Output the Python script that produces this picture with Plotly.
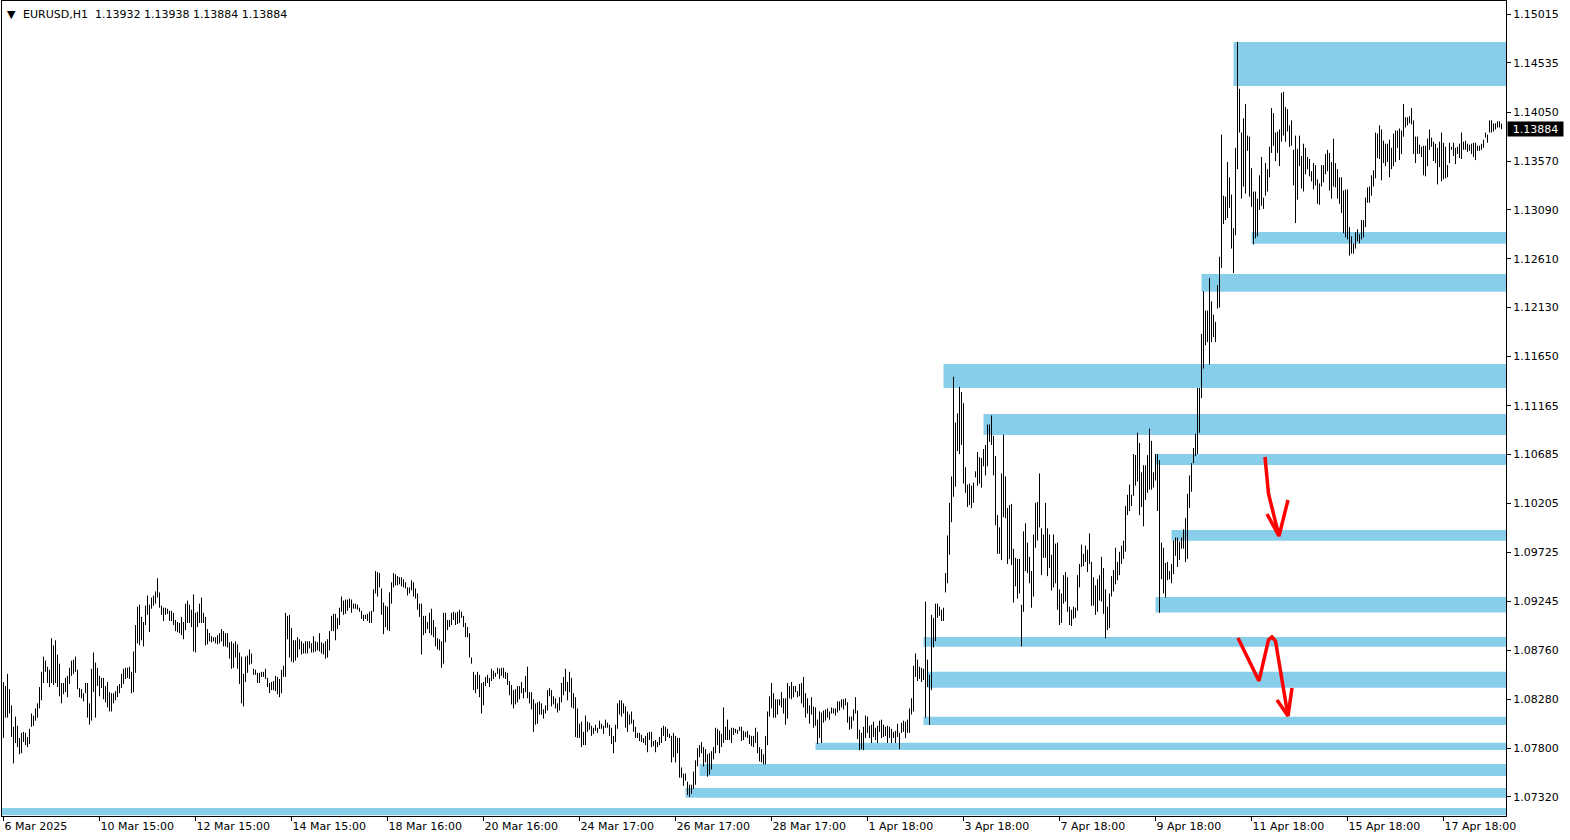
import plotly.graph_objects as go

# ---------------- data ----------------
chart_title = "EURUSD,H1  1.13932 1.13938 1.13884 1.13884"
last_price = 1.13884

bar_high = [
 1.0845, 1.0841, 1.0853, 1.0838, 1.0822, 1.0801, 1.0811, 1.0802, 1.0790, 1.0795,
 1.0796, 1.0795, 1.0791, 1.0799, 1.0814, 1.0812, 1.0819, 1.0824, 1.0840, 1.0855,
 1.0870, 1.0866, 1.0860, 1.0857, 1.0888, 1.0881, 1.0886, 1.0872, 1.0863, 1.0844,
 1.0844, 1.0849, 1.0851, 1.0859, 1.0866, 1.0867, 1.0870, 1.0857, 1.0839, 1.0838,
 1.0834, 1.0844, 1.0844, 1.0824, 1.0858, 1.0874, 1.0864, 1.0859, 1.0851, 1.0849,
 1.0849, 1.0841, 1.0845, 1.0835, 1.0834, 1.0834, 1.0836, 1.0841, 1.0843, 1.0853,
 1.0858, 1.0859, 1.0859, 1.0860, 1.0855, 1.0875, 1.0901, 1.0919, 1.0921, 1.0909,
 1.0904, 1.0920, 1.0930, 1.0921, 1.0928, 1.0930, 1.0934, 1.0947, 1.0933, 1.0920,
 1.0918, 1.0918, 1.0917, 1.0915, 1.0915, 1.0913, 1.0906, 1.0904, 1.0903, 1.0909,
 1.0904, 1.0922, 1.0925, 1.0921, 1.0916, 1.0931, 1.0913, 1.0914, 1.0922, 1.0928,
 1.0913, 1.0909, 1.0897, 1.0893, 1.0890, 1.0889, 1.0889, 1.0891, 1.0893, 1.0897,
 1.0895, 1.0893, 1.0893, 1.0884, 1.0885, 1.0883, 1.0885, 1.0882, 1.0874, 1.0870,
 1.0853, 1.0870, 1.0871, 1.0877, 1.0873, 1.0858, 1.0857, 1.0854, 1.0854, 1.0855,
 1.0855, 1.0858, 1.0849, 1.0844, 1.0845, 1.0846, 1.0851, 1.0850, 1.0848, 1.0857,
 1.0861, 1.0913, 1.0910, 1.0911, 1.0898, 1.0886, 1.0886, 1.0889, 1.0887, 1.0885,
 1.0883, 1.0885, 1.0885, 1.0885, 1.0883, 1.0890, 1.0885, 1.0884, 1.0893, 1.0884,
 1.0883, 1.0885, 1.0887, 1.0895, 1.0910, 1.0912, 1.0912, 1.0908, 1.0918, 1.0929,
 1.0925, 1.0926, 1.0926, 1.0927, 1.0926, 1.0922, 1.0922, 1.0921, 1.0918, 1.0915,
 1.0911, 1.0911, 1.0912, 1.0914, 1.0915, 1.0936, 1.0954, 1.0953, 1.0952, 1.0937,
 1.0923, 1.0920, 1.0919, 1.0933, 1.0943, 1.0952, 1.0951, 1.0949, 1.0948, 1.0948,
 1.0946, 1.0943, 1.0938, 1.0938, 1.0945, 1.0943, 1.0937, 1.0932, 1.0922, 1.0922,
 1.0910, 1.0910, 1.0904, 1.0913, 1.0917, 1.0906, 1.0899, 1.0888, 1.0887, 1.0885,
 1.0913, 1.0913, 1.0906, 1.0906, 1.0913, 1.0914, 1.0913, 1.0914, 1.0916, 1.0914,
 1.0910, 1.0903, 1.0899, 1.0893, 1.0869, 1.0855, 1.0852, 1.0855, 1.0852, 1.0844,
 1.0845, 1.0850, 1.0852, 1.0849, 1.0858, 1.0856, 1.0854, 1.0859, 1.0858, 1.0859,
 1.0859, 1.0855, 1.0854, 1.0846, 1.0842, 1.0837, 1.0838, 1.0841, 1.0841, 1.0845,
 1.0839, 1.0851, 1.0860, 1.0835, 1.0835, 1.0828, 1.0824, 1.0825, 1.0826, 1.0824,
 1.0818, 1.0822, 1.0837, 1.0839, 1.0837, 1.0831, 1.0829, 1.0824, 1.0830, 1.0844,
 1.0850, 1.0858, 1.0845, 1.0855, 1.0849, 1.0834, 1.0830, 1.0819, 1.0804, 1.0806,
 1.0796, 1.0812, 1.0806, 1.0805, 1.0802, 1.0800, 1.0803, 1.0800, 1.0807, 1.0804,
 1.0802, 1.0808, 1.0805, 1.0803, 1.0800, 1.0792, 1.0803, 1.0824, 1.0827, 1.0827,
 1.0824, 1.0821, 1.0816, 1.0813, 1.0816, 1.0808, 1.0801, 1.0795, 1.0795, 1.0793,
 1.0790, 1.0792, 1.0795, 1.0796, 1.0796, 1.0787, 1.0788, 1.0786, 1.0791, 1.0800,
 1.0802, 1.0801, 1.0799, 1.0794, 1.0792, 1.0795, 1.0792, 1.0790, 1.0790, 1.0761,
 1.0755, 1.0755, 1.0747, 1.0744, 1.0744, 1.0757, 1.0768, 1.0780, 1.0783, 1.0786,
 1.0781, 1.0779, 1.0774, 1.0775, 1.0777, 1.0781, 1.0800, 1.0799, 1.0797, 1.0794,
 1.0820, 1.0801, 1.0808, 1.0798, 1.0800, 1.0800, 1.0799, 1.0798, 1.0801, 1.0801,
 1.0797, 1.0796, 1.0797, 1.0793, 1.0792, 1.0792, 1.0800, 1.0796, 1.0781, 1.0779,
 1.0774, 1.0792, 1.0816, 1.0831, 1.0844, 1.0834, 1.0828, 1.0828, 1.0828, 1.0835,
 1.0829, 1.0829, 1.0844, 1.0841, 1.0845, 1.0841, 1.0841, 1.0836, 1.0843, 1.0844,
 1.0850, 1.0834, 1.0829, 1.0822, 1.0830, 1.0821, 1.0820, 1.0808, 1.0816, 1.0815,
 1.0817, 1.0818, 1.0819, 1.0816, 1.0820, 1.0819, 1.0819, 1.0826, 1.0826, 1.0828,
 1.0828, 1.0829, 1.0825, 1.0811, 1.0811, 1.0818, 1.0830, 1.0817, 1.0798, 1.0795,
 1.0801, 1.0812, 1.0811, 1.0802, 1.0803, 1.0806, 1.0800, 1.0802, 1.0807, 1.0808,
 1.0803, 1.0801, 1.0802, 1.0801, 1.0799, 1.0796, 1.0797, 1.0804, 1.0795, 1.0805,
 1.0807, 1.0806, 1.0808, 1.0819, 1.0829, 1.0861, 1.0873, 1.0867, 1.0860, 1.0859,
 1.0858, 1.0924, 1.0867, 1.0852, 1.0911, 1.0908, 1.0922, 1.0922, 1.0919, 1.0916,
 1.0918, 1.0952, 1.0989, 1.1021, 1.1047, 1.1145, 1.1100, 1.1109, 1.1135, 1.1130,
 1.1119, 1.1056, 1.1039, 1.1040, 1.1038, 1.1041, 1.1052, 1.1071, 1.1066, 1.1065,
 1.1074, 1.1078, 1.1098, 1.1098, 1.1107, 1.1087, 1.1067, 1.1009, 1.0997, 1.1050,
 1.1088, 1.1047, 1.1016, 1.1019, 1.1020, 1.0976, 1.0967, 1.0966, 1.0966, 1.0921,
 1.0993, 1.1001, 1.0982, 1.0968, 1.0954, 1.0990, 1.1021, 1.1022, 1.1050, 1.0996,
 1.0990, 1.1021, 1.0996, 1.0990, 1.0970, 1.0990, 1.0981, 1.0982, 1.0936, 1.0932,
 1.0950, 1.0953, 1.0948, 1.0919, 1.0916, 1.0919, 1.0918, 1.0950, 1.0961, 1.0980,
 1.0971, 1.0979, 1.0975, 1.0991, 1.0963, 1.0948, 1.0940, 1.0946, 1.0950, 1.0968,
 1.0957, 1.0936, 1.0919, 1.0932, 1.0949, 1.0955, 1.0977, 1.0963, 1.0973, 1.0979,
 1.0984, 1.1018, 1.1029, 1.1039, 1.1029, 1.1069, 1.1068, 1.1090, 1.1080, 1.1051,
 1.1058, 1.1058, 1.1068, 1.1094, 1.1082, 1.1051, 1.1069, 1.1069, 1.1063, 1.0982,
 1.0977, 1.0962, 1.0963, 1.0954, 1.0961, 1.0984, 1.0987, 1.0987, 1.0983, 1.0987,
 1.0995, 1.1006, 1.1030, 1.1048, 1.1060, 1.1075, 1.1089, 1.1134, 1.1134, 1.1187,
 1.1229, 1.1210, 1.1210, 1.1242, 1.1219, 1.1206, 1.1199, 1.1235, 1.1263, 1.1383,
 1.1323, 1.1322, 1.1356, 1.1341, 1.1324, 1.1291, 1.1370, 1.1474, 1.1428, 1.1385,
 1.1399, 1.1413, 1.1382, 1.1381, 1.1350, 1.1327, 1.1327, 1.1320, 1.1343, 1.1361,
 1.1321, 1.1355, 1.1349, 1.1371, 1.1409, 1.1404, 1.1385, 1.1386, 1.1388, 1.1424,
 1.1425, 1.1410, 1.1408, 1.1392, 1.1397, 1.1368, 1.1382, 1.1369, 1.1382, 1.1362,
 1.1374, 1.1370, 1.1361, 1.1359, 1.1347, 1.1355, 1.1353, 1.1339, 1.1335, 1.1353,
 1.1353, 1.1364, 1.1368, 1.1365, 1.1356, 1.1379, 1.1355, 1.1349, 1.1341, 1.1341,
 1.1328, 1.1329, 1.1329, 1.1292, 1.1283, 1.1276, 1.1287, 1.1290, 1.1285, 1.1299,
 1.1299, 1.1321, 1.1331, 1.1332, 1.1343, 1.1348, 1.1385, 1.1384, 1.1392, 1.1388,
 1.1377, 1.1374, 1.1374, 1.1378, 1.1370, 1.1384, 1.1387, 1.1387, 1.1389, 1.1387,
 1.1413, 1.1400, 1.1400, 1.1401, 1.1409, 1.1397, 1.1381, 1.1381, 1.1373, 1.1371,
 1.1372, 1.1372, 1.1379, 1.1388, 1.1380, 1.1376, 1.1374, 1.1370, 1.1376, 1.1385,
 1.1375, 1.1371, 1.1353, 1.1375, 1.1371, 1.1375, 1.1370, 1.1371, 1.1374, 1.1385,
 1.1376, 1.1377, 1.1374, 1.1373, 1.1374, 1.1375, 1.1375, 1.1372, 1.1372, 1.1374,
 1.1378, 1.1385, 1.1383, 1.1397, 1.1397, 1.1394, 1.1394, 1.1396, 1.1396, 1.13938,
]

bar_low = [
 1.0790, 1.0810, 1.0810, 1.0814, 1.0791, 1.0765, 1.0785, 1.0781, 1.0774, 1.0775,
 1.0786, 1.0783, 1.0781, 1.0784, 1.0801, 1.0802, 1.0807, 1.0810, 1.0819, 1.0827,
 1.0844, 1.0855, 1.0844, 1.0840, 1.0844, 1.0842, 1.0844, 1.0840, 1.0831, 1.0824,
 1.0833, 1.0835, 1.0830, 1.0843, 1.0851, 1.0853, 1.0855, 1.0838, 1.0830, 1.0829,
 1.0826, 1.0834, 1.0810, 1.0803, 1.0807, 1.0835, 1.0810, 1.0841, 1.0831, 1.0839,
 1.0828, 1.0825, 1.0820, 1.0816, 1.0816, 1.0824, 1.0827, 1.0830, 1.0834, 1.0839,
 1.0843, 1.0848, 1.0849, 1.0848, 1.0834, 1.0835, 1.0854, 1.0883, 1.0881, 1.0886,
 1.0880, 1.0901, 1.0911, 1.0894, 1.0917, 1.0920, 1.0922, 1.0928, 1.0918, 1.0911,
 1.0905, 1.0911, 1.0912, 1.0905, 1.0905, 1.0901, 1.0895, 1.0894, 1.0893, 1.0891,
 1.0887, 1.0896, 1.0903, 1.0903, 1.0899, 1.0875, 1.0874, 1.0899, 1.0903, 1.0903,
 1.0903, 1.0881, 1.0882, 1.0885, 1.0884, 1.0885, 1.0883, 1.0882, 1.0883, 1.0885,
 1.0880, 1.0880, 1.0879, 1.0868, 1.0858, 1.0859, 1.0869, 1.0858, 1.0843, 1.0824,
 1.0821, 1.0845, 1.0854, 1.0862, 1.0863, 1.0852, 1.0852, 1.0844, 1.0844, 1.0850,
 1.0850, 1.0848, 1.0840, 1.0834, 1.0837, 1.0837, 1.0836, 1.0833, 1.0830, 1.0834,
 1.0850, 1.0850, 1.0887, 1.0869, 1.0865, 1.0864, 1.0866, 1.0869, 1.0877, 1.0872,
 1.0873, 1.0873, 1.0873, 1.0878, 1.0874, 1.0874, 1.0875, 1.0876, 1.0875, 1.0873,
 1.0872, 1.0868, 1.0869, 1.0876, 1.0895, 1.0895, 1.0886, 1.0897, 1.0901, 1.0914,
 1.0911, 1.0912, 1.0915, 1.0918, 1.0913, 1.0917, 1.0917, 1.0916, 1.0914, 1.0907,
 1.0905, 1.0907, 1.0905, 1.0903, 1.0903, 1.0914, 1.0932, 1.0929, 1.0938, 1.0911,
 1.0892, 1.0899, 1.0896, 1.0895, 1.0922, 1.0938, 1.0940, 1.0940, 1.0941, 1.0939,
 1.0938, 1.0937, 1.0930, 1.0932, 1.0935, 1.0929, 1.0927, 1.0916, 1.0909, 1.0872,
 1.0891, 1.0893, 1.0897, 1.0893, 1.0891, 1.0889, 1.0880, 1.0877, 1.0876, 1.0859,
 1.0863, 1.0884, 1.0896, 1.0899, 1.0901, 1.0906, 1.0901, 1.0902, 1.0903, 1.0908,
 1.0899, 1.0889, 1.0889, 1.0869, 1.0863, 1.0837, 1.0834, 1.0838, 1.0830, 1.0814,
 1.0822, 1.0841, 1.0844, 1.0840, 1.0846, 1.0848, 1.0850, 1.0853, 1.0848, 1.0851,
 1.0849, 1.0848, 1.0842, 1.0832, 1.0823, 1.0819, 1.0823, 1.0825, 1.0828, 1.0834,
 1.0829, 1.0835, 1.0829, 1.0824, 1.0818, 1.0796, 1.0803, 1.0804, 1.0813, 1.0813,
 1.0809, 1.0814, 1.0817, 1.0831, 1.0821, 1.0823, 1.0819, 1.0815, 1.0817, 1.0825,
 1.0832, 1.0836, 1.0827, 1.0835, 1.0820, 1.0819, 1.0791, 1.0790, 1.0790, 1.0781,
 1.0783, 1.0783, 1.0796, 1.0798, 1.0792, 1.0794, 1.0797, 1.0795, 1.0799, 1.0799,
 1.0794, 1.0800, 1.0800, 1.0792, 1.0784, 1.0775, 1.0786, 1.0799, 1.0813, 1.0811,
 1.0814, 1.0800, 1.0796, 1.0803, 1.0804, 1.0796, 1.0790, 1.0790, 1.0787, 1.0786,
 1.0785, 1.0783, 1.0776, 1.0788, 1.0781, 1.0782, 1.0776, 1.0781, 1.0783, 1.0785,
 1.0792, 1.0787, 1.0791, 1.0790, 1.0766, 1.0771, 1.0766, 1.0775, 1.0751, 1.0751,
 1.0743, 1.0748, 1.0734, 1.0732, 1.0735, 1.0740, 1.0744, 1.0762, 1.0771, 1.0775,
 1.0762, 1.0766, 1.0752, 1.0754, 1.0759, 1.0769, 1.0775, 1.0783, 1.0775, 1.0781,
 1.0785, 1.0788, 1.0788, 1.0788, 1.0785, 1.0793, 1.0795, 1.0794, 1.0797, 1.0787,
 1.0788, 1.0791, 1.0790, 1.0784, 1.0782, 1.0781, 1.0785, 1.0775, 1.0767, 1.0766,
 1.0764, 1.0764, 1.0783, 1.0811, 1.0819, 1.0810, 1.0810, 1.0813, 1.0822, 1.0820,
 1.0814, 1.0803, 1.0809, 1.0829, 1.0828, 1.0830, 1.0835, 1.0830, 1.0831, 1.0824,
 1.0820, 1.0810, 1.0814, 1.0804, 1.0813, 1.0800, 1.0802, 1.0784, 1.0790, 1.0785,
 1.0805, 1.0807, 1.0810, 1.0808, 1.0814, 1.0814, 1.0812, 1.0815, 1.0817, 1.0820,
 1.0818, 1.0822, 1.0805, 1.0798, 1.0799, 1.0807, 1.0814, 1.0789, 1.0778, 1.0779,
 1.0778, 1.0790, 1.0795, 1.0790, 1.0785, 1.0791, 1.0788, 1.0785, 1.0796, 1.0790,
 1.0791, 1.0792, 1.0785, 1.0790, 1.0785, 1.0790, 1.0785, 1.0791, 1.0779, 1.0795,
 1.0796, 1.0790, 1.0795, 1.0795, 1.0813, 1.0816, 1.0850, 1.0846, 1.0848, 1.0845,
 1.0847, 1.0810, 1.0840, 1.0803, 1.0837, 1.0879, 1.0885, 1.0908, 1.0910, 1.0905,
 1.0905, 1.0933, 1.0942, 1.0970, 1.1002, 1.1027, 1.1037, 1.1072, 1.1069, 1.1078,
 1.1040, 1.1031, 1.1017, 1.1019, 1.1016, 1.1021, 1.1046, 1.1038, 1.1040, 1.1036,
 1.1057, 1.1048, 1.1057, 1.1081, 1.1078, 1.1048, 1.0999, 1.0971, 1.0971, 1.0965,
 1.1007, 1.1006, 1.0961, 1.0966, 1.0960, 1.0923, 1.0939, 1.0927, 1.0932, 1.0880,
 1.0914, 1.0954, 1.0952, 1.0942, 1.0918, 1.0929, 1.0977, 1.0984, 1.0997, 1.0950,
 1.0967, 1.0967, 1.0949, 1.0957, 1.0935, 1.0938, 1.0942, 1.0916, 1.0901, 1.0903,
 1.0922, 1.0924, 1.0914, 1.0901, 1.0900, 1.0907, 1.0908, 1.0915, 1.0938, 1.0958,
 1.0959, 1.0963, 1.0953, 1.0961, 1.0920, 1.0920, 1.0911, 1.0914, 1.0925, 1.0924,
 1.0912, 1.0888, 1.0896, 1.0898, 1.0929, 1.0934, 1.0941, 1.0945, 1.0950, 1.0961,
 1.0966, 1.0973, 1.1009, 1.1013, 1.1018, 1.1028, 1.1038, 1.1042, 1.1009, 1.1017,
 1.0998, 1.1024, 1.1031, 1.1034, 1.1034, 1.1036, 1.1043, 1.1013, 1.0913, 1.0946,
 1.0932, 1.0928, 1.0945, 1.0946, 1.0942, 1.0951, 1.0969, 1.0958, 1.0965, 1.0976,
 1.0976, 1.0963, 1.0966, 1.1016, 1.1032, 1.1060, 1.1067, 1.1069, 1.1090, 1.1124,
 1.1153, 1.1176, 1.1179, 1.1157, 1.1179, 1.1184, 1.1179, 1.1212, 1.1213, 1.1252,
 1.1295, 1.1299, 1.1301, 1.1311, 1.1271, 1.1247, 1.1284, 1.1349, 1.1385, 1.1320,
 1.1332, 1.1325, 1.1367, 1.1322, 1.1312, 1.1275, 1.1281, 1.1283, 1.1309, 1.1313,
 1.1310, 1.1323, 1.1327, 1.1341, 1.1365, 1.1372, 1.1357, 1.1365, 1.1352, 1.1376,
 1.1382, 1.1376, 1.1386, 1.1371, 1.1372, 1.1333, 1.1296, 1.1319, 1.1352, 1.1330,
 1.1327, 1.1344, 1.1349, 1.1342, 1.1337, 1.1329, 1.1333, 1.1315, 1.1314, 1.1332,
 1.1336, 1.1344, 1.1347, 1.1328, 1.1320, 1.1332, 1.1331, 1.1320, 1.1315, 1.1306,
 1.1286, 1.1282, 1.1280, 1.1264, 1.1266, 1.1266, 1.1271, 1.1278, 1.1276, 1.1280,
 1.1282, 1.1292, 1.1316, 1.1316, 1.1323, 1.1332, 1.1340, 1.1360, 1.1359, 1.1338,
 1.1355, 1.1352, 1.1356, 1.1341, 1.1349, 1.1352, 1.1356, 1.1370, 1.1358, 1.1364,
 1.1381, 1.1390, 1.1392, 1.1394, 1.1393, 1.1364, 1.1355, 1.1364, 1.1364, 1.1361,
 1.1343, 1.1342, 1.1352, 1.1368, 1.1371, 1.1357, 1.1355, 1.1334, 1.1351, 1.1337,
 1.1339, 1.1340, 1.1341, 1.1355, 1.1368, 1.1362, 1.1354, 1.1364, 1.1360, 1.1359,
 1.1368, 1.1368, 1.1366, 1.1367, 1.1364, 1.1361, 1.1358, 1.1367, 1.1367, 1.1368,
 1.1370, 1.1380, 1.1375, 1.1385, 1.1385, 1.1386, 1.1388, 1.1390, 1.1390, 1.13884,
]

time_tick_bars = [0, 48, 96, 144, 192, 240, 288, 336, 384, 432, 480, 528, 576, 624, 672, 720]
time_tick_labels = ["6 Mar 2025", "10 Mar 15:00", "12 Mar 15:00", "14 Mar 15:00",
                    "18 Mar 16:00", "20 Mar 16:00", "24 Mar 17:00", "26 Mar 17:00",
                    "28 Mar 17:00", "1 Apr 18:00", "3 Apr 18:00", "7 Apr 18:00",
                    "9 Apr 18:00", "11 Apr 18:00", "15 Apr 18:00", "17 Apr 18:00"]

price_ticks = [1.07320, 1.07800, 1.08280, 1.08760, 1.09245, 1.09725, 1.10205, 1.10685,
               1.11165, 1.11650, 1.12130, 1.12610, 1.13090, 1.13570, 1.14050, 1.14535, 1.15015]

# supply / demand zones (start bar, upper price, lower price)
zone_start_bar = [615, 624, 599, 470, 490, 576, 584, 576, 460, 462, 460, 406, 348, 341, -2]
zone_upper = [1.14740, 1.12873, 1.12460, 1.11575, 1.11084, 1.10691, 1.09944, 1.09285,
              1.08892, 1.08551, 1.08109, 1.07853, 1.07644, 1.07408, 1.07212]
zone_lower = [1.14307, 1.12758, 1.12286, 1.11339, 1.10877, 1.10583, 1.09839, 1.09133,
              1.08797, 1.08394, 1.08027, 1.07782, 1.07526, 1.07313, 1.07140]

# hand-drawn red arrows (bar position, price)
arrow_strokes = [
    ([630.75, 632.5, 637.75], [1.10661, 1.10300, 1.09885]),
    ([631.75, 637.75, 642.25], [1.10101, 1.09885, 1.10239]),
    ([617.25, 627.75, 632.5, 634.25, 636.0, 642.25], [1.08882, 1.08460, 1.08863, 1.08893, 1.08853, 1.08116]),
    ([636.75, 642.25, 644.25], [1.08273, 1.08116, 1.08391]),
]

# ---------------- figure ----------------
X_RANGE = [-0.75, 751.25]
Y_RANGE = [1.071330, 1.151428]
FONT = "DejaVu Sans"

seg_x, seg_y = [], []
for i, (h, l) in enumerate(zip(bar_high, bar_low)):
    seg_x += [i, i, None]
    seg_y += [l, h, None]

fig = go.Figure()
fig.add_trace(go.Scatter(x=seg_x, y=seg_y, mode="lines",
                         line=dict(color="#000000", width=1),
                         hoverinfo="skip", showlegend=False))

for bx, py in arrow_strokes:
    fig.add_trace(go.Scatter(x=bx, y=py, mode="lines",
                             line=dict(color="#FF0000", width=3.5),
                             hoverinfo="skip", showlegend=False))

shapes = []
for s, up, lo in zip(zone_start_bar, zone_upper, zone_lower):
    x0 = max(s, X_RANGE[0])
    shapes.append(dict(type="rect", xref="x", yref="y", x0=x0, x1=X_RANGE[1],
                       y0=lo, y1=up, fillcolor="#87CEEB", line=dict(width=0),
                       layer="below"))

annotations = [
    dict(xref="paper", yref="paper", x=0, y=1, xanchor="left", yanchor="top",
         xshift=3, yshift=-5, text="▼", showarrow=False,
         font=dict(family=FONT, size=11, color="black")),
    dict(xref="paper", yref="paper", x=0, y=1, xanchor="left", yanchor="top",
         xshift=19, yshift=-5, text=chart_title, showarrow=False,
         font=dict(family=FONT, size=11, color="black")),
    dict(xref="paper", yref="y", x=1, y=last_price, xanchor="left", yanchor="middle",
         xshift=1, text=f"{last_price:.5f}", showarrow=False, width=55, height=14,
         bgcolor="black", borderpad=0,
         font=dict(family=FONT, size=11, color="white")),
]

fig.update_layout(
    width=1570, height=840,
    margin=dict(l=2, r=64, t=1, b=24, pad=0),
    paper_bgcolor="white", plot_bgcolor="white",
    showlegend=False,
    font=dict(family=FONT, size=11, color="black"),
    shapes=shapes,
    annotations=annotations,
    xaxis=dict(range=X_RANGE, tickmode="array", tickvals=time_tick_bars,
               ticktext=time_tick_labels, ticks="outside", ticklen=4,
               tickcolor="black", tickwidth=1, showgrid=False, zeroline=False,
               showline=True, linecolor="black", linewidth=1, mirror=True,
               ticklabelposition="outside right",
               tickfont=dict(family=FONT, size=11, color="black")),
    yaxis=dict(range=Y_RANGE, side="right", tickmode="array", tickvals=price_ticks,
               ticktext=[f"{v:.5f}" for v in price_ticks], ticks="outside",
               ticklen=4, tickcolor="black", tickwidth=1, showgrid=False,
               zeroline=False, showline=True, linecolor="black", linewidth=1,
               mirror=True, tickfont=dict(family=FONT, size=11, color="black")),
)

fig.write_html("out.html",
               config={"displayModeBar": False, "staticPlot": True},
               post_script="document.body.style.margin='0';document.body.style.overflow='hidden';")
